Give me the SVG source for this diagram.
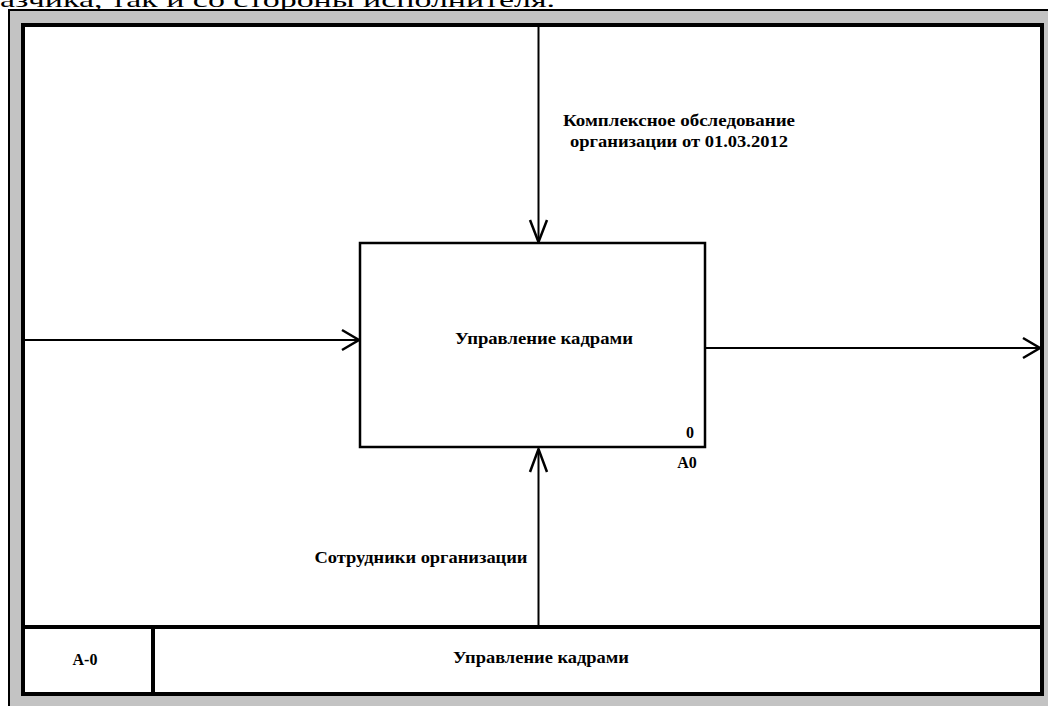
<svg xmlns="http://www.w3.org/2000/svg" width="1048" height="706" viewBox="0 0 1048 706">
<style>
.lbl{font-family:"Liberation Serif","Times New Roman",serif;font-weight:bold;font-size:16px;fill:#000}
.conn{fill:none;stroke:#000;stroke-width:2}
.head{fill:none;stroke:#000;stroke-width:2.5;stroke-linejoin:miter}
.frame{stroke:#000;stroke-width:4}
</style>
<rect width="1048" height="706" fill="#fff"/>
<text x="0" y="7" font-family="Liberation Serif, serif" font-size="21" textLength="555" lengthAdjust="spacingAndGlyphs" fill="#000">азчика, так и со стороны исполнителя.</text>
<g id="outer-frame">
<rect x="9" y="10" width="1039" height="696" fill="#c3c3c3"/>
<line x1="9" y1="9" x2="9" y2="706" stroke="#000" stroke-width="2"/>
<line x1="8" y1="10" x2="1048" y2="10" stroke="#000" stroke-width="2"/>
<rect x="23" y="25" width="1019" height="669" class="frame" style="fill:#fff"/>
</g>
<g id="title-block">
<line x1="23" y1="627" x2="1042" y2="627" class="frame"/>
<line x1="153" y1="627" x2="153" y2="694" class="frame"/>
<text class="lbl" x="85" y="665" text-anchor="middle">A-0</text>
<text class="lbl" x="541" y="663" text-anchor="middle" textLength="176" lengthAdjust="spacingAndGlyphs">Управление кадрами</text>
</g>
<g id="connectors">
<line class="conn" x1="538.5" y1="27" x2="538.5" y2="242"/>
<polyline class="head" points="530,220 538.5,242 547,220"/>
<line class="conn" x1="25" y1="340" x2="359" y2="340"/>
<polyline class="head" points="342,330 359,340 342,350"/>
<line class="conn" x1="706" y1="348" x2="1040" y2="348"/>
<polyline class="head" points="1023,338 1040,348 1023,358"/>
<line class="conn" x1="538.5" y1="625" x2="538.5" y2="449"/>
<polyline class="head" points="530,472 538.5,449 547,472"/>
<text class="lbl" x="679" y="126" text-anchor="middle" textLength="232" lengthAdjust="spacingAndGlyphs">Комплексное обследование</text>
<text class="lbl" x="679" y="147" text-anchor="middle" textLength="218" lengthAdjust="spacingAndGlyphs">организации от 01.03.2012</text>
<text class="lbl" x="421" y="563" text-anchor="middle" textLength="213" lengthAdjust="spacingAndGlyphs">Сотрудники организации</text>
</g>
<g id="node-A0">
<rect x="360" y="243" width="345" height="204" fill="#fff" stroke="#000" stroke-width="2.5"/>
<text class="lbl" x="544" y="344" text-anchor="middle" textLength="178" lengthAdjust="spacingAndGlyphs">Управление кадрами</text>
<text class="lbl" x="690" y="438" text-anchor="middle">0</text>
<text class="lbl" x="687" y="468" text-anchor="middle">A0</text>
</g>
</svg>
